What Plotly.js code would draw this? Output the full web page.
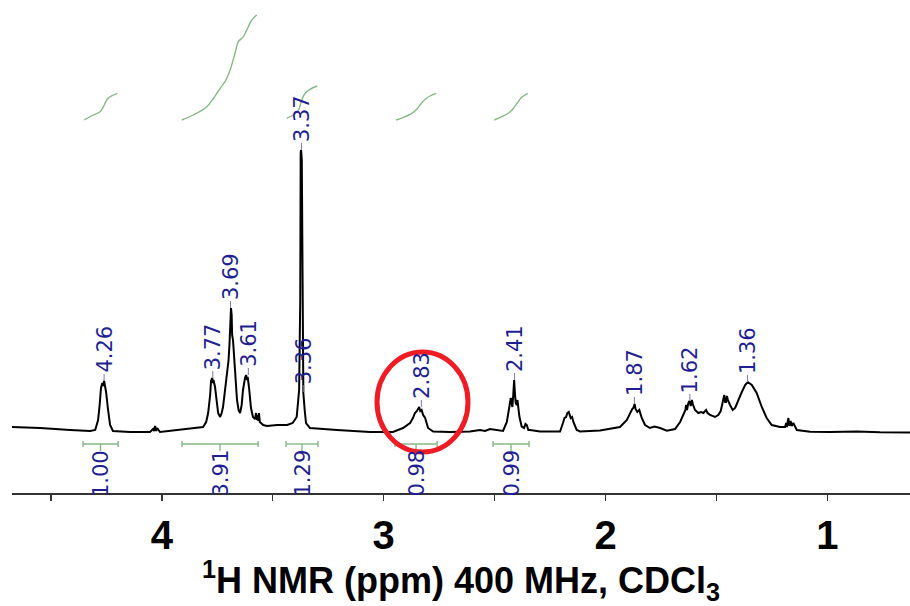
<!DOCTYPE html>
<html><head><meta charset="utf-8">
<script src="https://cdn.plot.ly/plotly-3.0.1.min.js"></script>
<style>html,body{margin:0;padding:0;background:#fff}#chart{width:910px;height:606px}</style>
</head><body><div id="chart"></div>
<script>
// ---- spectrum (chemical shift in ppm, intensity in arbitrary units) ----
const specPpm = [4.675,4.548,4.413,4.323,4.300,4.287,4.280,4.274,4.268,4.265,4.260,4.255,4.251,4.242,4.233,4.220,4.143,4.053,4.039,4.034,4.030,4.025,4.021,4.008,3.918,3.850,3.814,3.800,3.791,3.782,3.778,3.773,3.769,3.767,3.760,3.753,3.746,3.737,3.730,3.724,3.714,3.706,3.699,3.695,3.692,3.690,3.688,3.685,3.683,3.679,3.676,3.670,3.661,3.654,3.647,3.640,3.634,3.625,3.620,3.616,3.613,3.607,3.598,3.589,3.580,3.575,3.572,3.568,3.565,3.562,3.558,3.543,3.526,3.480,3.435,3.410,3.392,3.381,3.376,3.374,3.372,3.369,3.366,3.362,3.356,3.350,3.332,3.287,3.210,3.061,2.958,2.913,2.881,2.868,2.859,2.850,2.845,2.840,2.835,2.829,2.822,2.813,2.800,2.777,2.701,2.611,2.566,2.543,2.521,2.462,2.445,2.438,2.435,2.430,2.427,2.423,2.420,2.416,2.412,2.408,2.405,2.400,2.397,2.393,2.388,2.378,2.367,2.361,2.355,2.348,2.340,2.295,2.205,2.192,2.185,2.178,2.172,2.166,2.162,2.157,2.151,2.145,2.130,2.115,2.025,1.935,1.904,1.890,1.880,1.875,1.869,1.865,1.857,1.848,1.837,1.822,1.800,1.780,1.769,1.754,1.724,1.687,1.664,1.649,1.640,1.637,1.633,1.627,1.622,1.616,1.611,1.607,1.597,1.582,1.570,1.559,1.547,1.540,1.529,1.507,1.492,1.481,1.472,1.465,1.461,1.457,1.453,1.449,1.439,1.427,1.416,1.402,1.386,1.371,1.359,1.341,1.330,1.319,1.296,1.274,1.251,1.214,1.191,1.186,1.183,1.176,1.172,1.166,1.161,1.154,1.138,1.078,0.988,0.867,0.763,0.628];
const specInt = [6,5,3,2,3,13,28,45,50,47,52,45,41,23,8,2,1,1,4,2,7,2,5,1,3,5,6,11,20,38,52,55,50,53,46,33,20,16,20,26,43,60,73,88,103,115,125,118,98,93,83,68,33,23,20,28,43,55,58,53,56,46,25,16,14,20,13,18,12,20,11,8,7,8,8,10,16,43,133,281,283,273,133,40,23,10,5,4,3,1,1,5,10,15,20,22,25,26,22,23,18,15,5,1.5,1,1.5,3,2,4,2,11,23,26,31,35,29,26,38,53,38,30,28,33,25,16,6.5,5,9,8,3,3,1.5,1.5,10,15,16,20,21,18,15,16,11,3,1.5,2.5,6,13,20,24,25,29,24,21,23,15,8,5,6.5,6,5,2.3,4,11,18,23,28,23,30,32,27,33,29,23,20,21,20,23,20,18,16,18,22,30,38,31,31,37,33,28,23,25,33,41,48,51,48,44,40,26,15,8,6,6,10,6,15,7,12,7,10,3,1.3,1,1.5,0.7,0.5];

// ---- picked peaks ----
const peakPpm    = [4.26, 3.77, 3.69, 3.61, 3.37, 3.36, 2.83, 2.41, 1.87, 1.62, 1.36];
const peakTop    = [52, 55, 125, 58, 283, 41, 26, 53, 29, 32, 51];
const peakLabels = ["4.26","3.77","3.69","3.61","3.37","3.36","2.83","2.41","1.87","1.62","1.36"];

// ---- integration regions ----
const intFrom   = [4.355, 3.909, 3.440, 2.949, 2.507];
const intTo     = [4.197, 3.566, 3.296, 2.759, 2.345];
const intLabels = ["1.00", "3.91", "1.29", "0.98", "0.99"];

// ---- integral curves (ppm, cumulative integral level) ----
const int1Ppm = [4.350, 4.308, 4.278, 4.263, 4.248, 4.233, 4.200];
const int1Val = [313, 318, 321.3, 326.3, 333, 336.3, 339.7];
const int2Ppm = [3.910, 3.858, 3.797, 3.767, 3.737, 3.715, 3.692, 3.670, 3.655, 3.632, 3.617, 3.594, 3.572];
const int2Val = [313, 318, 326.3, 334.7, 344.7, 351.3, 363, 379.7, 391.3, 396.3, 403, 413, 418];
const int3Ppm = [3.437, 3.407, 3.384, 3.369, 3.354, 3.332, 3.299];
const int3Val = [314.7, 318, 323, 333, 339.7, 343.7, 347];
const int4Ppm = [2.944, 2.911, 2.873, 2.851, 2.833, 2.813, 2.791, 2.764];
const int4Val = [313, 315.7, 319.7, 323.7, 329, 333.7, 337, 339.7];
const int5Ppm = [2.502, 2.468, 2.438, 2.415, 2.397, 2.378, 2.351];
const int5Val = [313, 316.3, 319.7, 324.7, 330.3, 335.7, 339.7];

// ---- highlighted peak ----
const highlightPeak = 2.83;

// ---------------- styling ----------------
const BLUE = '#1f1f8f', GREEN = '#86b886', RED = '#ee1c24';
const connLen = 7, barLevel = -11, capHalf = 3, midTick = 7;
const LABEL_FONT = {family: 'DejaVu Sans, Verdana, sans-serif', size: 21, color: BLUE};

const traces = [];
traces.push({x: specPpm, y: specInt, mode: 'lines', line: {color: '#000', width: 2}, hoverinfo: 'skip'});

const intCurves = [[int1Ppm,int1Val],[int2Ppm,int2Val],[int3Ppm,int3Val],[int4Ppm,int4Val],[int5Ppm,int5Val]];
intCurves.forEach(([px, pv]) => traces.push({x: px, y: pv, mode: 'lines', line: {color: GREEN, width: 1.4, shape: 'spline'}, hoverinfo: 'skip'}));

// integral bars
const bx = [], by = [];
intFrom.forEach((f, i) => {
  const t = intTo[i], m = (f + t) / 2;
  bx.push(f, t, null, f, f, null, t, t, null, m, m, null);
  by.push(barLevel, barLevel, null, barLevel - capHalf, barLevel + capHalf, null, barLevel - capHalf, barLevel + capHalf, null, barLevel, barLevel - midTick, null);
});
traces.push({x: bx, y: by, mode: 'lines', line: {color: GREEN, width: 1.4}, hoverinfo: 'skip'});

// peak connectors
const cx = [], cy = [];
peakPpm.forEach((p, i) => { cx.push(p, p, null); cy.push(peakTop[i], peakTop[i] + connLen, null); });
traces.push({x: cx, y: cy, mode: 'lines', line: {color: '#7c7ca0', width: 1}, hoverinfo: 'skip'});

const annotations = [];
peakPpm.forEach((p, i) => annotations.push({
  x: p, y: peakTop[i] + connLen, xref: 'x', yref: 'y', text: peakLabels[i], showarrow: false,
  textangle: -90, xanchor: 'center', yanchor: 'bottom', borderpad: 0,
  font: LABEL_FONT
}));
intFrom.forEach((f, i) => annotations.push({
  x: (f + intTo[i]) / 2, y: barLevel - midTick + 2, xref: 'x', yref: 'y', text: intLabels[i], showarrow: false,
  textangle: -90, xanchor: 'center', yanchor: 'top', borderpad: 0,
  font: LABEL_FONT
}));

const shapes = [{
  type: 'circle', xref: 'x', yref: 'y',
  x0: highlightPeak + 0.20, x1: highlightPeak - 0.21, y0: -19, y1: 81,
  line: {color: RED, width: 5}
}];

const layout = {
  width: 910, height: 606,
  margin: {l: 12, r: 0, t: 0, b: 113},
  paper_bgcolor: '#fff', plot_bgcolor: '#fff',
  showlegend: false,
  xaxis: {
    range: [4.675, 0.628], showline: true, linecolor: '#333', linewidth: 1.5,
    ticks: 'outside', ticklen: 6, tickwidth: 1.5, tickcolor: '#333',
    tick0: 0, dtick: 1, showgrid: false, zeroline: false,
    minor: {dtick: 0.5, ticks: 'outside', ticklen: 6, tickwidth: 1.5, tickcolor: '#333', showgrid: false},
    ticklabelstandoff: 0,
    tickfont: {family: 'Liberation Sans, Arial, sans-serif', size: 40, color: '#000', weight: 'bold'},
    title: {text: '<sup>1</sup>H NMR (ppm) 400 MHz, CDCl<sub>3</sub>', standoff: 16,
            font: {family: 'Liberation Sans, Arial, sans-serif', size: 36, color: '#000', weight: 'bold'}}
  },
  yaxis: {range: [-60, 433], visible: false, showgrid: false, zeroline: false},
  annotations: annotations,
  shapes: shapes
};

Plotly.newPlot('chart', traces, layout, {displayModeBar: false, staticPlot: true});
</script>
</body></html>
